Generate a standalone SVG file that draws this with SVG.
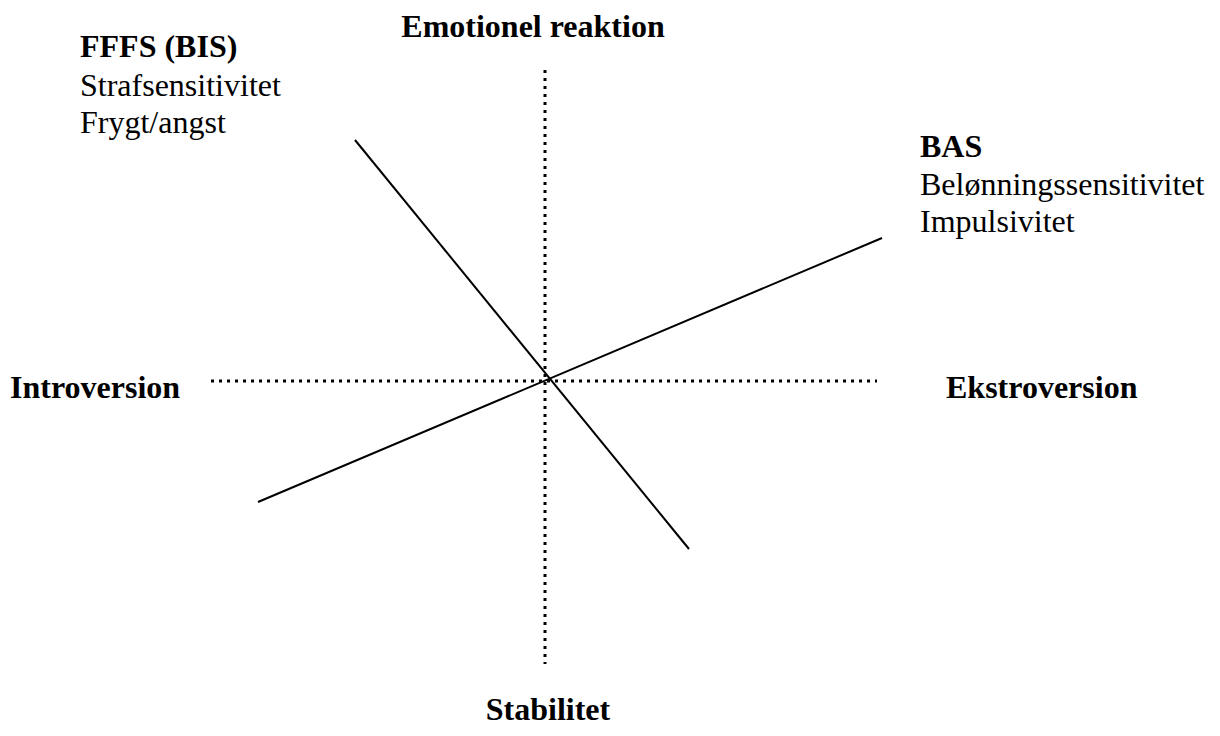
<svg xmlns="http://www.w3.org/2000/svg" width="1220" height="736" viewBox="0 0 1220 736">
<style>
text{font-family:"Liberation Serif",Tinos,"Times New Roman","DejaVu Serif",serif;font-size:32px;fill:#000}
.b{font-weight:bold}
.dot{stroke:#000;stroke-width:3;stroke-dasharray:3 5;fill:none}
.ln{stroke:#000;stroke-width:2;fill:none}
</style>
<rect width="1220" height="736" fill="#fff"/>
<g id="connectors">
<line class="dot" x1="545" y1="70" x2="545" y2="664"/>
<line class="dot" x1="211" y1="381" x2="877" y2="381"/>
<line class="ln" x1="355" y1="140" x2="689" y2="549"/>
<line class="ln" x1="258" y1="502" x2="882" y2="238"/>
</g>
<g id="top"><text class="b" x="533" y="37" text-anchor="middle">Emotionel reaktion</text></g>
<g id="bottom"><text class="b" x="548" y="720" text-anchor="middle">Stabilitet</text></g>
<g id="left"><text class="b" x="10" y="398">Introversion</text></g>
<g id="right"><text class="b" x="946" y="398">Ekstroversion</text></g>
<g id="fffs">
<text class="b" x="80" y="57">FFFS (BIS)</text>
<text x="80" y="96">Strafsensitivitet</text>
<text x="80" y="133">Frygt/angst</text>
</g>
<g id="bas">
<text class="b" x="920" y="157">BAS</text>
<text x="920" y="195">Belønningssensitivitet</text>
<text x="920" y="232">Impulsivitet</text>
</g>
</svg>
